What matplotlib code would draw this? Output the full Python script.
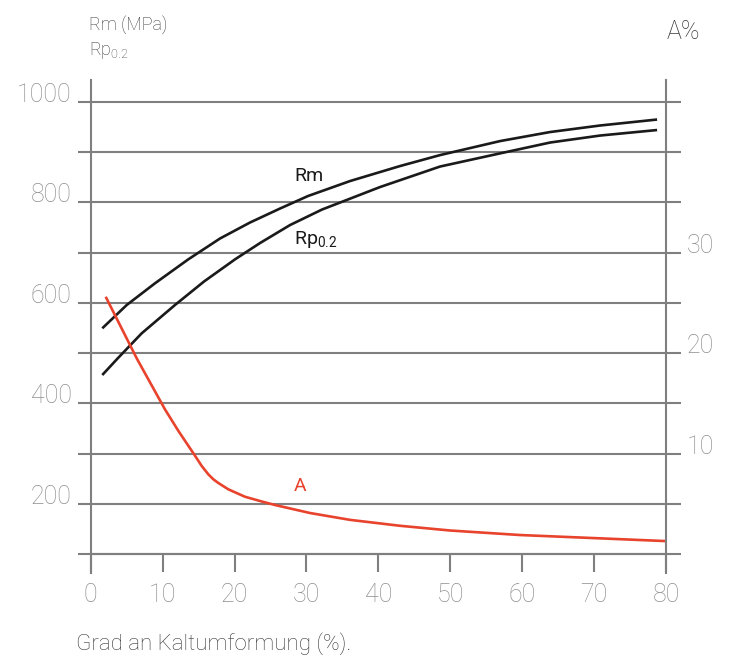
import matplotlib
matplotlib.use("Agg")
import matplotlib.pyplot as plt

plt.rcParams['font.family'] = ['Roboto', 'DejaVu Sans']
plt.rcParams['font.weight'] = 'light'

# values
rm_x = [1.61, 5.01, 8.94, 13.57, 17.98, 22.15, 26.33, 30.22, 36.06, 43.02, 48.58,
        56.93, 63.88, 70.83, 78.76]
rm_y = [549.4, 595.8, 639.0, 686.7, 728.2, 760.0, 787.9, 812.8, 842.6, 872.5, 894.3,
        922.2, 940.2, 953.2, 965.1]

rp_x = [1.61, 3.76, 7.09, 11.72, 15.75, 20.07, 23.55, 27.72, 32.17, 40.24, 48.58,
        56.51, 63.88, 70.83, 78.76]
rp_y = [456.4, 489.6, 539.4, 595.8, 642.5, 686.7, 719.2, 755.0, 785.9, 830.7, 871.5,
        896.4, 919.3, 933.2, 944.2]

a_x = [2.09, 6.40, 10.33, 12.18, 14.53, 15.44, 16.36, 17.05, 17.75, 19.14, 21.46,
       23.78, 25.63, 30.51, 36.06, 43.02, 49.98, 59.71, 70.83, 79.87]
a_y = [25.61, 19.48, 14.40, 12.27, 9.76, 8.76, 7.93, 7.44, 7.07, 6.44, 5.70,
       5.23, 4.88, 4.08, 3.40, 2.81, 2.34, 1.89, 1.56, 1.29]

x_ticks = [0, 10, 20, 30, 40, 50, 60, 70, 80]
mpa_grid = [100, 200, 300, 400, 500, 600, 700, 800, 900, 1000]
mpa_labels = [200, 400, 600, 800, 1000]
a_labels = [10, 20, 30]

grey = '#7f7f7f'
label_grey = '#8e8e8e'
red = '#e8432d'

fig = plt.figure(figsize=(7.29, 6.59), dpi=100)
ax = fig.add_axes([0.1244, 0.1305, 0.7892, 0.7481])
ax2 = ax.twinx()

ylo, yhi = 62.2, 1043.8
ax.set_ylim(ylo, yhi)
ax2.set_ylim((ylo - 100) / 20, (yhi - 100) / 20)
ax.set_xlim(0, 80)

ax.plot(rm_x, rm_y, color='#1a1a1a', lw=1.9, solid_capstyle='butt', solid_joinstyle='round')
ax.plot(rp_x, rp_y, color='#1a1a1a', lw=1.9, solid_capstyle='butt', solid_joinstyle='round')
ax2.plot(a_x, a_y, color=red, lw=1.9, solid_capstyle='butt', solid_joinstyle='round')

# grid and left ticks
ax.set_yticks(mpa_grid)
ax.set_yticklabels([str(v) if v in mpa_labels else '' for v in mpa_grid])
ax.grid(axis='y', color=grey, lw=1.5)
ax.set_axisbelow(True)
ax.tick_params(axis='y', direction='out', length=9.4, width=1.5, color=grey,
               labelsize=18, labelcolor=label_grey, pad=4.3)
for t in ax.get_yticklabels():
    t.set_va('baseline')

# right ticks, in A %
a_grid = [(v - 100) / 20 for v in mpa_grid]
ax2.set_yticks(a_grid)
ax2.set_yticklabels([str(int(a)) if a in a_labels else '' for a in a_grid])
ax2.tick_params(axis='y', direction='out', length=10.8, width=1.5, color=grey,
                labelsize=18, labelcolor=label_grey, pad=4.3)
for t in ax2.get_yticklabels():
    t.set_va('baseline')

# x axis sits on the 100 MPa line
ax.spines['bottom'].set_position(('data', 100))
ax.set_xticks(x_ticks)
ax.tick_params(axis='x', direction='out', length=13, width=1.5, color=grey,
               labelsize=18, labelcolor=label_grey, pad=8)

for a in (ax, ax2):
    a.spines['top'].set_visible(False)
    for s in a.spines.values():
        s.set_color(grey)
        s.set_linewidth(1.5)
ax.spines['right'].set_visible(False)
ax2.spines['left'].set_visible(False)
ax2.spines['bottom'].set_visible(False)

# curve labels
ax.text(28.3, 842, 'Rm', fontsize=14, color='#1a1a1a', va='baseline', fontweight='normal')
ax.text(28.3, 717, r'$\mathregular{Rp_{0.2}}$', fontsize=14, color='#1a1a1a',
        va='baseline', fontweight='normal')
ax2.text(28.3, 6.27, 'A', fontsize=14, color=red, va='baseline', fontweight='normal')

# axis titles
fig.text(89 / 729, 1 - 30 / 659, 'Rm (MPa)', fontsize=13, color='#3a3a3a', va='baseline')
fig.text(89 / 729, 1 - 55 / 659, r'$\mathregular{Rp_{0.2}}$', fontsize=13,
         color='#3a3a3a', va='baseline')
fig.text(667 / 729, 1 - 39 / 659, 'A%', fontsize=18, color='#3a3a3a', va='baseline')
fig.text(76 / 729, 1 - 650 / 659, 'Grad an Kaltumformung (%).', fontsize=16,
         color='#3a3a3a', va='baseline')

fig.savefig('out.png', dpi=100)
